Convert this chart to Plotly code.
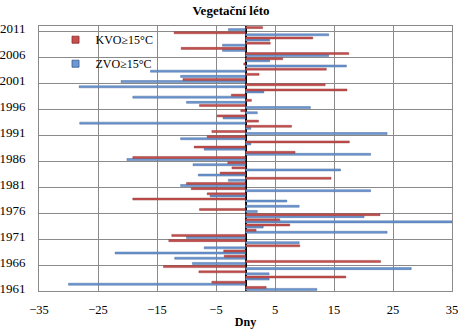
import plotly.graph_objects as go

# Years on the category axis (bottom to top)
years = list(range(1961, 2012))

# Deviation in days, KVO >= 15 °C
kvo = [3.5, -5.7, 17.0, -7.9, -13.9, 22.9, -3.6, -3.7, 9.2, -13.0,
       -12.5, 1.8, 7.5, 5.8, 22.8, -7.8, 0.0, -19.1, -6.5, -9.2,
       -10.0, 14.5, -4.3, -2.3, -3.0, -19.1, 8.4, -8.7, 17.6, -6.5,
       -5.7, 7.8, 2.2, -4.8, -0.8, -7.8, 1.0, -2.4, 17.2, 13.5,
       -10.6, 2.3, 13.7, -0.3, 6.3, 17.5, -10.9, 4.2, 11.4, -12.1,
       2.9]

# Deviation in days, ZVO >= 15 °C
zvo = [12.1, -30.0, 4.0, 4.0, 28.1, -9.0, -12.0, -22.1, -7.0, 9.1,
       -10.0, 24.0, 3.0, 35.0, 20.1, 2.0, 9.1, 7.0, -6.0, 21.2,
       -11.0, -2.9, -8.0, 16.1, -8.9, -20.1, 21.2, -7.0, 0.9, -11.0,
       24.0, 0.9, -28.1, -3.8, 2.0, 11.0, -10.0, -19.1, 3.1, -28.2,
       -21.1, -11.0, -16.1, 17.1, 4.1, 14.1, -3.9, -3.9, 4.1, 14.1,
       -2.9]

year_ticks = list(range(1961, 2012, 5))
x_ticks = list(range(-35, 36, 10))

serif = "Liberation Serif"
grid = "#8a8a8a"
red_fill, red_edge = "#c4504f", "#8a2a29"
blue_fill, blue_edge = "#6d98d2", "#34588f"

fig = go.Figure()
fig.add_trace(go.Bar(
    y=years, x=zvo, orientation="h", name="ZVO≥15°C", showlegend=False,
    marker=dict(color=blue_fill, line=dict(color=blue_edge, width=0.4)),
))
fig.add_trace(go.Bar(
    y=years, x=kvo, orientation="h", name="KVO≥15°C", showlegend=False,
    marker=dict(color=red_fill, line=dict(color=red_edge, width=0.4)),
))

# Small square legend keys
fig.add_trace(go.Scatter(
    x=[None], y=[None], mode="markers", name="KVO≥15°C",
    legendgroup="k", legendrank=1,
    marker=dict(symbol="square", size=7, color=red_fill,
                line=dict(color=red_edge, width=0.8)),
))
fig.add_trace(go.Scatter(
    x=[None], y=[None], mode="markers", name="ZVO≥15°C",
    legendgroup="z", legendrank=2,
    marker=dict(symbol="square", size=7, color=blue_fill,
                line=dict(color=blue_edge, width=0.8)),
))

fig.update_layout(
    width=462, height=329,
    margin=dict(l=39, r=10, t=26, b=38),
    paper_bgcolor="white", plot_bgcolor="white",
    barmode="group", bargap=0.22, bargroupgap=0,
    font=dict(family=serif, size=12, color="black"),
    title=dict(text="<b>Vegetační léto</b>", x=0.5, xref="container",
               xanchor="center",
               y=0.968, yref="container", yanchor="middle",
               font=dict(family=serif, size=13, color="black")),
    legend=dict(x=0.04, y=1.003, xanchor="left", yanchor="top",
                bgcolor="rgba(0,0,0,0)", tracegroupgap=5,
                font=dict(family=serif, size=12),
                itemwidth=30),
    showlegend=True,
)

fig.update_xaxes(
    range=[-35, 35], tickmode="array", tickvals=x_ticks,
    ticks="outside", ticklen=7, tickcolor="white",
    showgrid=True, gridcolor=grid, gridwidth=1,
    zeroline=True, zerolinecolor="black", zerolinewidth=1.5,
    showline=True, linecolor=grid, mirror=True,
    tickfont=dict(family=serif, size=12.5),
    title=dict(text="<b>Dny</b>", standoff=6,
               font=dict(family=serif, size=12)),
    automargin=False,
)

fig.update_yaxes(
    range=[1960.5, 2011.5], tickmode="array", tickvals=year_ticks,
    ticktext=[str(y) for y in year_ticks],
    ticks="outside", ticklen=10, tickcolor="white",
    showgrid=False, zeroline=False,
    showline=True, linecolor=grid, mirror=True,
    tickfont=dict(family=serif, size=13),
    minor=dict(tickmode="array",
               tickvals=[y - 0.5 for y in year_ticks],
               showgrid=True, gridcolor=grid, gridwidth=1, ticks=""),
    automargin=False,
)

fig.write_html("out.html")
